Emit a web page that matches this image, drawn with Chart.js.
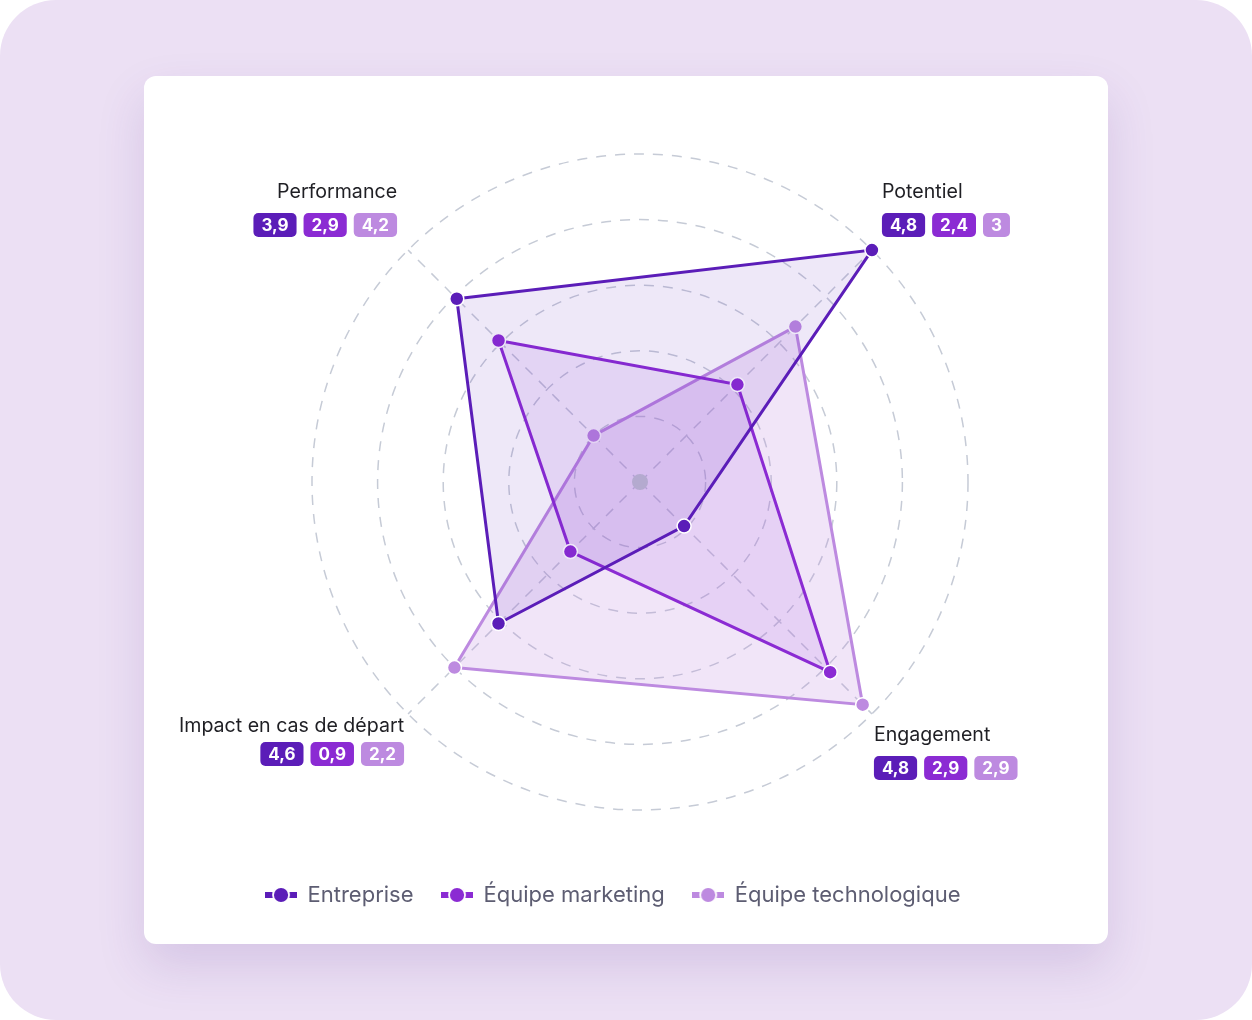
<!DOCTYPE html>
<html lang="fr">
<head>
<meta charset="utf-8">
<title>Radar des talents</title>
<script src="https://cdn.jsdelivr.net/npm/chart.js@4.4.1/dist/chart.umd.min.js"></script>
<style>
  html, body { margin: 0; padding: 0; background: #ffffff; }
  .frame {
    position: relative;
    width: 1252px;
    height: 1020px;
    background: #ece0f4;
    border-radius: 56px;
    overflow: hidden;
  }
  .card {
    position: absolute;
    left: 144px;
    top: 76px;
    width: 964px;
    height: 868px;
    background: #ffffff;
    border-radius: 12px;
    box-shadow: 0 22px 48px rgba(90, 50, 150, 0.15);
  }
  .card canvas { display: block; }
</style>
</head>
<body>
<div class="frame">
  <div class="card"><canvas id="radarChart"></canvas></div>
</div>
<script>
// Axes et séries
const axes = ["Performance", "Potentiel", "Engagement", "Impact en cas de départ"];
const series = ["Entreprise", "Équipe marketing", "Équipe technologique"];

// Valeurs tracées
const entreprise = [3.95, 5.0, 0.95, 3.05];
const marketing = [3.05, 2.1, 4.1, 1.5];
const technologique = [1.0, 3.35, 4.8, 4.0];

// Notes affichées dans les pastilles sous chaque axe
const notesEntreprise = [3.9, 4.8, 4.8, 4.6];
const notesMarketing = [2.9, 2.4, 2.9, 0.9];
const notesTechnologique = [4.2, 3, 2.9, 2.2];

// Graduations de l'échelle
const ticks = [0, 1, 2, 3, 4, 5];

const colors = ["#5b1db8", "#8b2bd3", "#bd8ae0"];
const fills = ["rgba(91, 29, 184, 0.10)", "rgba(139, 43, 211, 0.10)", "rgba(189, 138, 224, 0.22)"];
const FONT = "Inter, 'Noto Sans', sans-serif";

// Placement des libellés autour du cercle extérieur
const labelPlacement = [
  { align: "right", dx: -11, textY: -58, badgeY: -25 },
  { align: "left", dx: 10, textY: -58, badgeY: -25 },
  { align: "left", dx: 2, textY: 21, badgeY: 54 },
  { align: "right", dx: -4, textY: 12, badgeY: 40 },
];

function formatNote(v) {
  return String(v).replace(".", ",");
}

// Pastille colorée avec la note
function badgeWidth(ctx, text) {
  return ctx.measureText(text).width + 16;
}

function drawBadge(ctx, x, y, text, color) {
  const w = badgeWidth(ctx, text);
  ctx.fillStyle = color;
  ctx.beginPath();
  ctx.roundRect(x, y - 12, w, 24, 5);
  ctx.fill();
  ctx.fillStyle = "#ffffff";
  ctx.textAlign = "center";
  ctx.fillText(text, x + w / 2, y + 1);
  return w;
}

const axisLabels = {
  id: "axisLabels",
  afterDatasetsDraw(chart) {
    const { ctx } = chart;
    const r = chart.scales.r;
    const notes = [notesEntreprise, notesMarketing, notesTechnologique];

    // point central
    ctx.save();
    ctx.fillStyle = "#b4aacf";
    ctx.beginPath();
    ctx.arc(r.xCenter, r.yCenter, 8, 0, Math.PI * 2);
    ctx.fill();
    ctx.restore();

    axes.forEach((label, i) => {
      const p = r.getPointPosition(i, r.drawingArea);
      const place = labelPlacement[i];
      const x = p.x + place.dx;

      ctx.save();
      ctx.textBaseline = "middle";
      ctx.font = "400 19.6px " + FONT;
      ctx.fillStyle = "#1f1f24";
      ctx.textAlign = place.align;
      ctx.fillText(label, x, p.y + place.textY);

      ctx.font = "700 17px " + FONT;
      const texts = notes.map((arr) => formatNote(arr[i]));
      const gap = 7;
      const total = texts.reduce((s, t) => s + badgeWidth(ctx, t), 0) + gap * (texts.length - 1);
      let bx = place.align === "right" ? x - total : x;
      texts.forEach((t, k) => {
        bx += drawBadge(ctx, bx, p.y + place.badgeY, t, colors[k]) + gap;
      });
      ctx.restore();
    });
  },
};

// Décale la légende vers la gauche comme sur la maquette
const legendShift = {
  id: "legendShift",
  afterLayout(chart) {
    chart.legend.left -= 27;
    chart.legend.right -= 27;
  },
};

// Marqueur de légende : trait + point
function legendMarker(color) {
  const c = document.createElement("canvas");
  c.width = 32;
  c.height = 20;
  const g = c.getContext("2d");
  g.fillStyle = color;
  g.fillRect(0, 7, 32, 6);
  g.beginPath();
  g.arc(16, 10, 8, 0, Math.PI * 2);
  g.fill();
  g.lineWidth = 1.8;
  g.strokeStyle = "#ffffff";
  g.stroke();
  return c;
}
const markers = colors.map(legendMarker);

const values = [entreprise, marketing, technologique];

const ctx = document.getElementById("radarChart").getContext("2d");
new Chart(ctx, {
  type: "radar",
  data: {
    labels: axes,
    datasets: series.map((name, i) => ({
      label: name,
      data: values[i],
      borderColor: colors[i],
      backgroundColor: fills[i],
      borderWidth: 3,
      fill: true,
      tension: 0,
      pointRadius: 7,
      pointHoverRadius: 7,
      pointBackgroundColor: colors[i],
      pointBorderColor: "#ffffff",
      pointBorderWidth: 1.5,
    })),
  },
  options: {
    responsive: true,
    maintainAspectRatio: false,
    animation: false,
    layout: {
      padding: { top: 78, bottom: 28, left: 28, right: 0 },
    },
    scales: {
      r: {
        min: ticks[0],
        max: ticks[ticks.length - 1],
        startAngle: -45,
        ticks: { display: false, stepSize: ticks[1] - ticks[0] },
        pointLabels: { display: false },
        grid: { circular: true, color: "#c6cbd6", lineWidth: 1.5 },
        border: { dash: [10, 9] },
        angleLines: { color: "#c6cbd6", lineWidth: 1.5, borderDash: [10, 9] },
      },
    },
    plugins: {
      tooltip: { enabled: false },
      legend: {
        position: "bottom",
        title: { display: true, text: "", padding: { top: 34, bottom: 0 }, font: { size: 10 } },
        labels: {
          usePointStyle: true,
          pointStyleWidth: 31,
          padding: 28,
          color: "#5d5d72",
          font: { family: FONT, size: 22 },
          generateLabels(chart) {
            const items = Chart.defaults.plugins.legend.labels.generateLabels(chart);
            items.forEach((item, i) => {
              item.pointStyle = markers[i];
            });
            return items;
          },
        },
      },
    },
  },
  plugins: [axisLabels, legendShift],
});
</script>
</body>
</html>
